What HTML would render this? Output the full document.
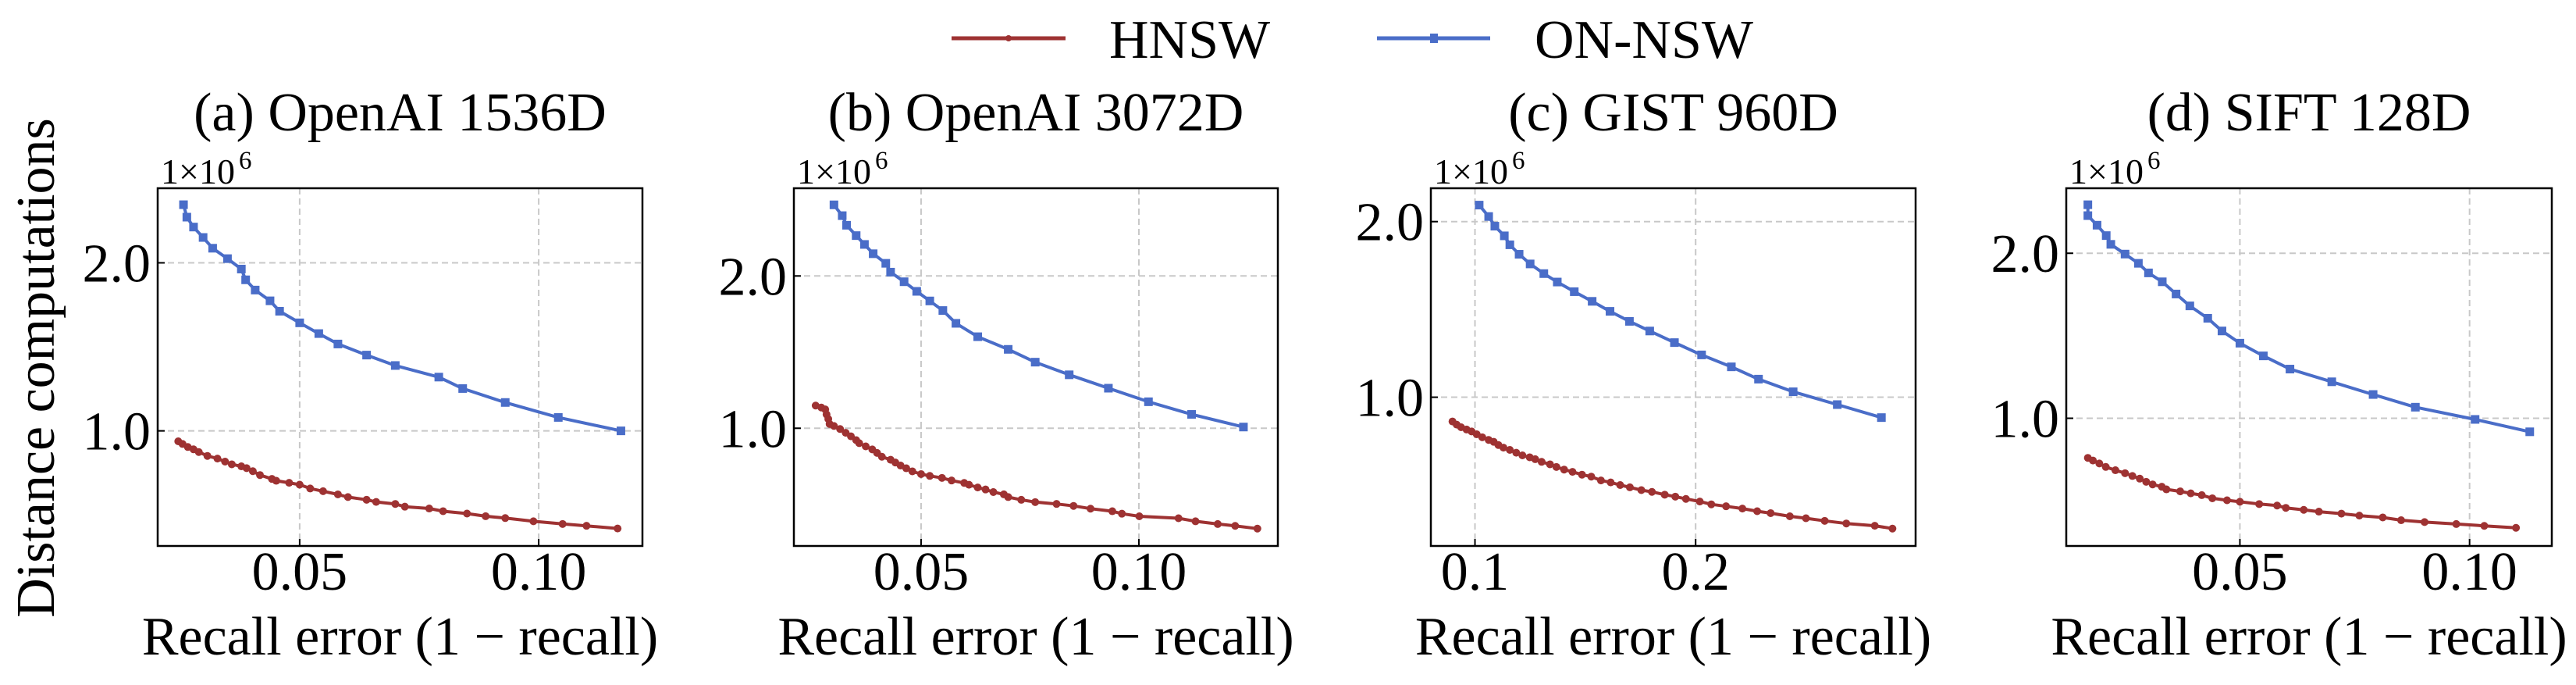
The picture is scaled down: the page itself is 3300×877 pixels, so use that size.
<!DOCTYPE html>
<html><head><meta charset="utf-8"><style>
html,body{margin:0;padding:0;background:#fff;}
svg text{font-family:"Liberation Serif","DejaVu Serif",serif;fill:#000;}
</style></head><body>
<svg id="fig" xmlns="http://www.w3.org/2000/svg" width="3300" height="872" viewBox="0 0 3300 872">
<g>
  <g>
    <line x1="1219" y1="49" x2="1365" y2="49" stroke="#9e3232" stroke-width="5"/>
    <circle cx="1292" cy="49" r="4" fill="#9e3232"/>
    <text x="1421" y="74" font-size="70">HNSW</text>
  </g>
  <g>
    <line x1="1764" y1="49" x2="1909" y2="49" stroke="#4a6dc8" stroke-width="5"/>
    <rect x="1832" y="43" width="10" height="12" fill="#4a6dc8"/>
    <text x="1966" y="74" font-size="70">ON-NSW</text>
  </g>
</g>
<text transform="translate(69,471) rotate(-90)" text-anchor="middle" font-size="70">Distance computations</text>
</svg>
<script>
// ---- data ----
const panelTitles = ["(a) OpenAI 1536D","(b) OpenAI 3072D","(c) GIST 960D","(d) SIFT 128D"];
const xTicksA = [0.05,0.10]; const xTickLabelsA = ["0.05","0.10"];
const xTicksC = [0.1,0.2];   const xTickLabelsC = ["0.1","0.2"];
const yTicks = [1.0,2.0];    const yTickLabels = ["1.0","2.0"];

const aOnX = [0.0257,0.0264,0.0278,0.0298,0.0318,0.0349,0.0378,0.0387,0.0407,0.0438,0.0458,0.05,0.054,0.058,0.064,0.070,0.0791,0.0841,0.093,0.1041,0.1172];
const aOnY = [2.346,2.272,2.213,2.151,2.087,2.025,1.963,1.899,1.838,1.774,1.712,1.643,1.579,1.517,1.451,1.389,1.320,1.252,1.169,1.080,1.0];
const aHnX = [0.0246,0.0255,0.0266,0.0278,0.0289,0.0307,0.0328,0.0344,0.0358,0.0378,0.0389,0.0402,0.0417,0.0442,0.0451,0.0478,0.05,0.0522,0.0549,0.058,0.0601,0.064,0.066,0.07,0.072,0.0771,0.08,0.085,0.0889,0.093,0.0989,0.105,0.11,0.1165];
const aHnY = [0.938,0.922,0.904,0.890,0.874,0.851,0.835,0.817,0.801,0.789,0.778,0.760,0.737,0.714,0.703,0.691,0.680,0.657,0.641,0.622,0.606,0.590,0.577,0.565,0.549,0.538,0.522,0.508,0.492,0.481,0.462,0.446,0.435,0.419];

const bOnX = [0.03,0.0319,0.0329,0.0351,0.037,0.039,0.0419,0.043,0.0461,0.049,0.052,0.055,0.058,0.063,0.07,0.0762,0.084,0.093,0.1022,0.1121,0.124];
const bOnY = [2.467,2.396,2.333,2.265,2.207,2.146,2.083,2.025,1.962,1.899,1.836,1.773,1.689,1.601,1.518,1.434,1.351,1.263,1.174,1.091,1.008];
const bHnX = [0.0258,0.0271,0.028,0.0283,0.0287,0.029,0.03,0.0314,0.0327,0.0339,0.0351,0.0358,0.0373,0.0388,0.0399,0.041,0.043,0.0441,0.0453,0.0466,0.048,0.05,0.052,0.0548,0.057,0.0599,0.061,0.063,0.0648,0.0666,0.069,0.07,0.073,0.0762,0.0811,0.085,0.0889,0.0939,0.0961,0.1001,0.1091,0.113,0.1181,0.1221,0.1272];
const bHnY = [1.149,1.136,1.124,1.091,1.061,1.028,1.015,0.995,0.970,0.947,0.922,0.902,0.881,0.861,0.838,0.813,0.793,0.775,0.755,0.737,0.717,0.699,0.687,0.674,0.657,0.641,0.629,0.611,0.598,0.581,0.566,0.548,0.530,0.515,0.503,0.490,0.472,0.455,0.439,0.422,0.409,0.389,0.371,0.359,0.341];

const cOnX = [0.1019,0.1062,0.109,0.1133,0.1158,0.12,0.125,0.1312,0.1373,0.145,0.1531,0.1612,0.17,0.1792,0.1904,0.2027,0.2162,0.2285,0.2442,0.2642,0.2842];
const cOnY = [2.094,2.029,1.974,1.919,1.868,1.814,1.759,1.704,1.656,1.601,1.546,1.489,1.432,1.377,1.311,1.241,1.173,1.103,1.031,0.958,0.884];
const cHnX = [0.0898,0.0917,0.0937,0.0962,0.0985,0.1008,0.1033,0.1062,0.1085,0.1106,0.1129,0.1158,0.1187,0.1215,0.1248,0.1273,0.1302,0.134,0.1369,0.1404,0.1442,0.1485,0.1527,0.1571,0.1615,0.1658,0.1702,0.1754,0.1802,0.186,0.1908,0.1956,0.2019,0.2071,0.2138,0.2212,0.2279,0.234,0.2427,0.25,0.2585,0.2683,0.2812,0.2892];
const cHnY = [0.862,0.844,0.829,0.816,0.805,0.789,0.772,0.757,0.746,0.728,0.713,0.700,0.684,0.669,0.658,0.647,0.632,0.618,0.603,0.588,0.575,0.559,0.548,0.526,0.515,0.500,0.487,0.471,0.461,0.445,0.434,0.421,0.406,0.390,0.379,0.366,0.351,0.340,0.322,0.311,0.296,0.281,0.268,0.252];

const dOnX = [0.0169,0.0169,0.0189,0.0209,0.0219,0.025,0.0279,0.0301,0.0331,0.0361,0.0391,0.043,0.0461,0.05,0.0551,0.0609,0.07,0.079,0.0882,0.1012,0.1131];
const dOnY = [2.294,2.228,2.170,2.107,2.054,1.995,1.939,1.881,1.827,1.753,1.681,1.606,1.529,1.455,1.378,1.298,1.221,1.144,1.067,0.993,0.918];
const dHnX = [0.0169,0.018,0.0194,0.0208,0.0229,0.025,0.0266,0.0282,0.0296,0.031,0.033,0.034,0.037,0.0393,0.0417,0.044,0.0472,0.05,0.0542,0.0581,0.06,0.0639,0.0672,0.0721,0.076,0.0811,0.0851,0.0902,0.0971,0.1032,0.1101];
const dHnY = [0.760,0.744,0.726,0.705,0.685,0.667,0.650,0.634,0.615,0.599,0.585,0.569,0.557,0.545,0.534,0.515,0.503,0.494,0.480,0.471,0.457,0.445,0.434,0.422,0.410,0.399,0.382,0.371,0.359,0.348,0.336];

// ---- layout ----
const NS = "http://www.w3.org/2000/svg";
const svg = document.getElementById("fig");
const TOP = 241, BOT = 699;
const panels = [
  {l:202, r:823, xd:[0.0203,0.1217], yd:[0.315,2.444], xt:xTicksA, xl:xTickLabelsA, on:[aOnX,aOnY], hn:[aHnX,aHnY]},
  {l:1017,r:1637,xd:[0.0208,0.1319], yd:[0.227,2.576], xt:xTicksA, xl:xTickLabelsA, on:[bOnX,bOnY], hn:[bHnX,bHnY]},
  {l:1833,r:2454,xd:[0.080,0.2997],  yd:[0.153,2.19],  xt:xTicksC, xl:xTickLabelsC, on:[cOnX,cOnY], hn:[cHnX,cHnY]},
  {l:2647,r:3269,xd:[0.0122,0.1179], yd:[0.226,2.394], xt:xTicksA, xl:xTickLabelsA, on:[dOnX,dOnY], hn:[dHnX,dHnY]}
];
function mk(tag, attrs, parent){ const e=document.createElementNS(NS,tag); for(const k in attrs) e.setAttribute(k,attrs[k]); parent.appendChild(e); return e; }
const RED="#9e3232", BLUE="#4a6dc8";

panels.forEach((p,i)=>{
  const g = mk("g",{},svg);
  
  
  const sx = v => p.l + (v-p.xd[0])/(p.xd[1]-p.xd[0])*(p.r-p.l);
  const sy = v => BOT - (v-p.yd[0])/(p.yd[1]-p.yd[0])*(BOT-TOP);
  // grid
  p.xt.forEach((t,j)=>{
    const ln = mk("line",{x1:sx(t),x2:sx(t),y1:TOP,y2:BOT,stroke:"#c8c8c8","stroke-width":2,"stroke-dasharray":"8,5"},g);
    
    
    mk("line",{x1:sx(t),x2:sx(t),y1:BOT,y2:BOT-9,stroke:"#000","stroke-width":2},g);
    const tx = mk("text",{x:sx(t),y:755,"text-anchor":"middle","font-size":70},g);
    tx.textContent = p.xl[j];
    
    
  });
  yTicks.forEach((t,j)=>{
    const ln = mk("line",{x1:p.l,x2:p.r,y1:sy(t),y2:sy(t),stroke:"#c8c8c8","stroke-width":2,"stroke-dasharray":"8,5"},g);
    
    
    mk("line",{x1:p.l,x2:p.l+9,y1:sy(t),y2:sy(t),stroke:"#000","stroke-width":2},g);
    const tx = mk("text",{x:p.l-9,y:sy(t)+24,"text-anchor":"end","font-size":70},g);
    tx.textContent = yTickLabels[j];
    
    
  });
  // series
  [[p.hn,RED,"hnsw"],[p.on,BLUE,"on-nsw"]].forEach(([s,col,nm])=>{
    const pts = s[0].map((x,k)=>sx(x).toFixed(1)+","+sy(s[1][k]).toFixed(1)).join(" ");
    const pl = mk("polyline",{points:pts,fill:"none",stroke:col,"stroke-width":4,"stroke-linejoin":"round"},g);
    
    
    s[0].forEach((x,k)=>{
      let m;
      if(nm==="hnsw") m = mk("circle",{cx:sx(x),cy:sy(s[1][k]),r:5,fill:col},g);
      else m = mk("rect",{x:sx(x)-5.5,y:sy(s[1][k])-5.5,width:11,height:11,fill:col},g);
      
      
    });
  });
  // frame
  const fr = mk("rect",{x:p.l,y:TOP,width:p.r-p.l,height:BOT-TOP,fill:"none",stroke:"#000","stroke-width":2.5},g);
  
  
  // title
  const tt = mk("text",{x:(p.l+p.r)/2,y:167,"text-anchor":"middle","font-size":70},g);
  tt.textContent = panelTitles[i];
  
  
  // offset text
  const ot = mk("text",{x:p.l+4,y:235,"font-size":46},g);
  ot.textContent = "1\u00d710";
  
  
  const sup = mk("text",{x:p.l+104,y:216,"font-size":33},g);
  sup.textContent = "6";
  
  
  // x label
  const xl = mk("text",{x:(p.l+p.r)/2,y:838,"text-anchor":"middle","font-size":70},g);
  xl.textContent = "Recall error (1 \u2212 recall)";
  
  
});
</script>
</body></html>
